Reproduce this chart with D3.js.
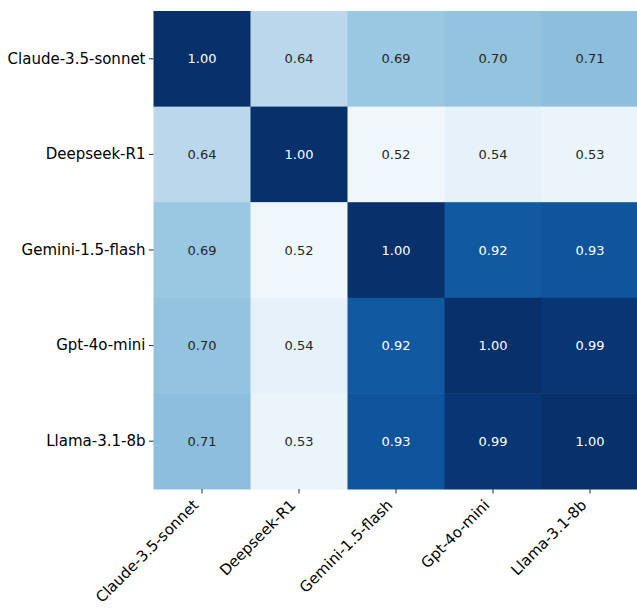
<!DOCTYPE html>
<html>
<head>
<meta charset="utf-8">
<script src="https://cdn.jsdelivr.net/npm/d3@7"></script>
<style>
  body { margin: 0; background: #fff; }
  svg { display: block; font-family: "DejaVu Sans", sans-serif; }
</style>
</head>
<body>
<svg width="637" height="613"></svg>
<script>
var models = ["Claude-3.5-sonnet", "Deepseek-R1", "Gemini-1.5-flash", "Gpt-4o-mini", "Llama-3.1-8b"]
var sim = [
  [1.00, 0.64, 0.69, 0.70, 0.71],
  [0.64, 1.00, 0.52, 0.54, 0.53],
  [0.69, 0.52, 1.00, 0.92, 0.93],
  [0.70, 0.54, 0.92, 1.00, 0.99],
  [0.71, 0.53, 0.93, 0.99, 1.00]
]

var svg = d3.select("svg")
var marginLeft = 153.5, marginTop = 11
var width = 485, height = 478

var x = d3.scaleBand().domain(models).range([marginLeft, marginLeft + width])
var y = d3.scaleBand().domain(models).range([marginTop, marginTop + height])

var cells = []
sim.forEach(function(row, i) {
  row.forEach(function(v, j) { cells.push({r: models[i], c: models[j], v: v}) })
})

// colour range runs from 0.5 to 1
var color = d3.scaleSequential(d3.interpolateBlues).domain([0.5, 1.0])

svg.selectAll("rect.cell")
  .data(cells).enter().append("rect")
  .attr("class", "cell")
  .attr("x", d => x(d.c))
  .attr("y", d => y(d.r))
  .attr("width", x.bandwidth() + 0.5)
  .attr("height", y.bandwidth() + 0.5)
  .attr("fill", d => color(d.v))

svg.selectAll("text.val")
  .data(cells).enter().append("text")
  .attr("class", "val")
  .attr("x", d => x(d.c) + x.bandwidth() / 2)
  .attr("y", d => y(d.r) + y.bandwidth() / 2)
  .attr("dy", "0.36em")
  .attr("text-anchor", "middle")
  .style("font-size", "13px")
  .attr("fill", function(d) {
    var c = d3.rgb(color(d.v))
    var lum = 0.2126 * c.r + 0.7152 * c.g + 0.0722 * c.b
    return lum < 105 ? "#ffffff" : "#262626"
  })
  .text(d => d.v.toFixed(2))

// y axis
var yAxis = svg.append("g")
  .attr("transform", "translate(" + marginLeft + ",0)")
  .call(d3.axisLeft(y).tickSize(4.5).tickPadding(3.5))
yAxis.select(".domain").remove()
yAxis.selectAll("line").attr("stroke", "#262626")
yAxis.selectAll("text")
  .style("font-size", "15px")
  .style("font-family", "DejaVu Sans")
  .attr("fill", "#000")

// x axis
var xAxis = svg.append("g")
  .attr("transform", "translate(0," + (marginTop + height) + ")")
  .call(d3.axisBottom(x).tickSize(4.5))
xAxis.select(".domain").remove()
xAxis.selectAll("line").attr("stroke", "#262626")
xAxis.selectAll("text")
  .style("font-size", "15px")
  .style("font-family", "DejaVu Sans")
  .attr("fill", "#000")
  .attr("text-anchor", "end")
  .attr("x", 0).attr("y", 0).attr("dy", 0)
  .attr("transform", "translate(-2.5,17) rotate(-45)")
</script>
</body>
</html>
